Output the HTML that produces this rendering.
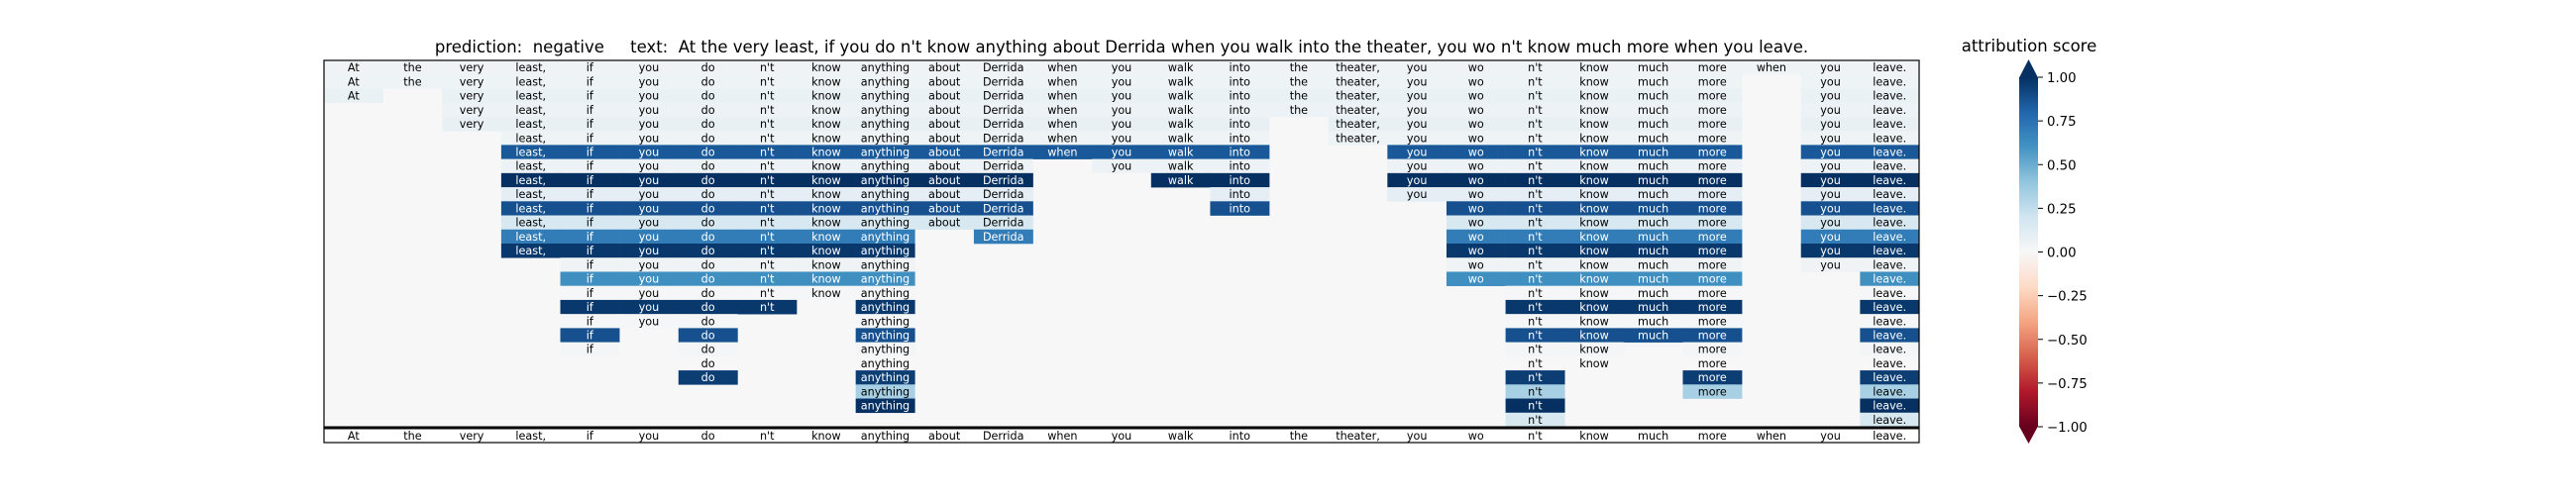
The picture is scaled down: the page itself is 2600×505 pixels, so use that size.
<!DOCTYPE html>
<html><head><meta charset="utf-8"><style>
html,body{margin:0;padding:0;background:#fff;}
svg text{font-family:"DejaVu Sans","Liberation Sans",sans-serif;}
</style></head><body>
<svg id="chart" width="2600" height="500" xmlns="http://www.w3.org/2000/svg">
<text x="1132" y="53" font-size="16.5" text-anchor="middle" xml:space="preserve">prediction:  negative     text:  At the very least, if you do n't know anything about Derrida when you walk into the theater, you wo n't know much more when you leave.</text>
<text x="2048" y="52" font-size="16.5" text-anchor="middle">attribution score</text>
<g id="cells"></g>
<g id="bottom"></g>
<g id="cbar"></g>
</svg>
<script>
const tokens = ["At","the","very","least,","if","you","do","n't","know","anything","about","Derrida","when","you","walk","into","the","theater,","you","wo","n't","know","much","more","when","you","leave."];
const rowValues = [0.04,0.05,0.07,0.06,0.08,0.05,0.85,0.06,1.0,0.1,0.88,0.17,0.7,0.97,0.04,0.62,0.01,0.97,0.01,0.88,0.02,0.0,0.95,0.33,1.0,0.17];
const rowTokens = [
 [0,1,2,3,4,5,6,7,8,9,10,11,12,13,14,15,16,17,18,19,20,21,22,23,24,25,26],
 [0,1,2,3,4,5,6,7,8,9,10,11,12,13,14,15,16,17,18,19,20,21,22,23,25,26],
 [0,2,3,4,5,6,7,8,9,10,11,12,13,14,15,16,17,18,19,20,21,22,23,25,26],
 [2,3,4,5,6,7,8,9,10,11,12,13,14,15,16,17,18,19,20,21,22,23,25,26],
 [2,3,4,5,6,7,8,9,10,11,12,13,14,15,17,18,19,20,21,22,23,25,26],
 [3,4,5,6,7,8,9,10,11,12,13,14,15,17,18,19,20,21,22,23,25,26],
 [3,4,5,6,7,8,9,10,11,12,13,14,15,18,19,20,21,22,23,25,26],
 [3,4,5,6,7,8,9,10,11,13,14,15,18,19,20,21,22,23,25,26],
 [3,4,5,6,7,8,9,10,11,14,15,18,19,20,21,22,23,25,26],
 [3,4,5,6,7,8,9,10,11,15,18,19,20,21,22,23,25,26],
 [3,4,5,6,7,8,9,10,11,15,19,20,21,22,23,25,26],
 [3,4,5,6,7,8,9,10,11,19,20,21,22,23,25,26],
 [3,4,5,6,7,8,9,11,19,20,21,22,23,25,26],
 [3,4,5,6,7,8,9,19,20,21,22,23,25,26],
 [4,5,6,7,8,9,19,20,21,22,23,25,26],
 [4,5,6,7,8,9,19,20,21,22,23,26],
 [4,5,6,7,8,9,20,21,22,23,26],
 [4,5,6,7,9,20,21,22,23,26],
 [4,5,6,9,20,21,22,23,26],
 [4,6,9,20,21,22,23,26],
 [4,6,9,20,21,23,26],
 [6,9,20,21,23,26],
 [6,9,20,23,26],
 [9,20,23,26],
 [9,20,26],
 [20,26]
];
const cbarTicks = [1.0,0.75,0.5,0.25,0.0,-0.25,-0.5,-0.75,-1.0];
const cbarTickLabels = ["1.00","0.75","0.50","0.25","0.00","\u22120.25","\u22120.50","\u22120.75","\u22121.00"];

const NS="http://www.w3.org/2000/svg";
const X0=327, X1=1937, Y0=61, YH=431, nC=tokens.length, nR=rowValues.length;
const cw=(X1-X0)/nC, rh=(YH-Y0)/nR;
const xPos=i=>X0+i*cw, yPos=r=>Y0+r*rh;
const stops=[[-1,[103,0,31]],[-0.8,[178,24,43]],[-0.6,[214,96,77]],[-0.4,[244,165,130]],[-0.2,[253,219,199]],[0,[247,247,247]],[0.2,[209,229,240]],[0.4,[146,197,222]],[0.6,[67,147,195]],[0.8,[33,102,172]],[1,[5,48,97]]];
function cmap(v){v=Math.max(-1,Math.min(1,v));for(let i=0;i<stops.length-1;i++){const a=stops[i],b=stops[i+1];if(v<=b[0]){const t=(v-a[0])/(b[0]-a[0]);const c=a[1].map((x,k)=>Math.round(x+(b[1][k]-x)*t));return `rgb(${c})`;}}return 'rgb(5,48,97)';}
function mk(tag,attrs,parent){const e=document.createElementNS(NS,tag);for(const k in attrs)e.setAttribute(k,attrs[k]);parent.appendChild(e);return e;}
const cells=document.getElementById('cells');
const bg=mk('rect',{x:X0,y:Y0,width:X1-X0,height:YH-Y0,fill:cmap(0)},cells);


rowValues.forEach((v,r)=>{
  rowTokens[r].forEach(c=>{
    const rc=mk('rect',{x:xPos(c),y:yPos(r),width:cw+0.3,height:rh+0.3,fill:cmap(v)},cells);
    
    
    const t=mk('text',{x:xPos(c)+cw/2,y:yPos(r)+rh/2+4,'font-size':'11.2','text-anchor':'middle',fill:v>0.5?'#fff':'#000'},cells);
    t.textContent=tokens[c];
    
    
  });
});
const bot=document.getElementById('bottom');
tokens.forEach((tk,c)=>{
  const t=mk('text',{x:xPos(c)+cw/2,y:444,'font-size':'11.2','text-anchor':'middle'},bot);
  t.textContent=tk;
  
  
});
const sep=mk('line',{x1:X0,x2:X1,y1:432,y2:432,stroke:'#000','stroke-width':3},bot);


const fr=mk('rect',{x:X0,y:Y0,width:X1-X0,height:447-Y0,fill:'none',stroke:'#000','stroke-width':1.2},bot);


const cb=document.getElementById('cbar');
const CX0=2038, CX1=2057, CT=78, CB=431;
const cy=v=>CB-(v+1)/2*(CB-CT);
const defs=mk('defs',{},cb);
const g=mk('linearGradient',{id:'rdbu',x1:0,y1:1,x2:0,y2:0},defs);
stops.forEach(s=>mk('stop',{offset:(s[0]+1)/2,'stop-color':cmap(s[0])},g));
const bar=mk('rect',{x:CX0,y:cy(1),width:CX1-CX0,height:cy(-1)-cy(1),fill:'url(#rdbu)'},cb);


const tu=mk('polygon',{points:`${CX0},${cy(1)+0.5} ${CX1},${cy(1)+0.5} ${(CX0+CX1)/2},60`,fill:cmap(1)},cb);


const td=mk('polygon',{points:`${CX0},${cy(-1)-0.5} ${CX1},${cy(-1)-0.5} ${(CX0+CX1)/2},448`,fill:cmap(-1)},cb);


cbarTicks.forEach((v,i)=>{
  const l=mk('line',{x1:CX1,x2:CX1+5,y1:cy(v),y2:cy(v),stroke:'#000','stroke-width':1},cb);
  
  
  const t=mk('text',{x:CX1+9,y:cy(v)+5,'font-size':'13.3'},cb);
  t.textContent=cbarTickLabels[i];
  
  
});
</script>
</body></html>
